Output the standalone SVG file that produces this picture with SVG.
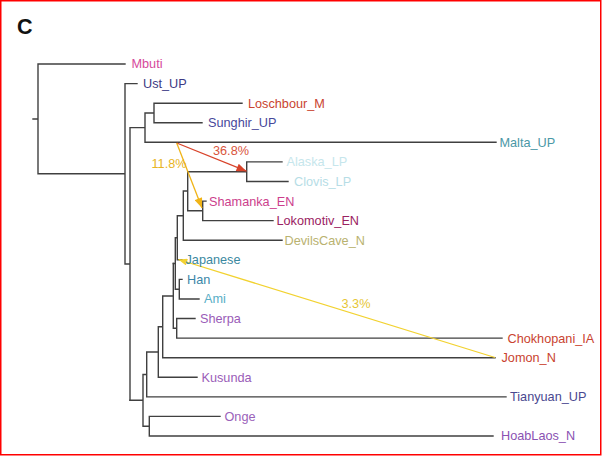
<svg xmlns="http://www.w3.org/2000/svg" width="602" height="456" viewBox="0 0 602 456">
<style>
.t{fill:none;stroke:#404040;stroke-width:1.4;stroke-linecap:square}
text{font-family:"Liberation Sans",Arial,sans-serif;font-size:12.7px}
.m{fill:none;stroke-width:1.3}
</style>
<defs>
<marker id="ar" viewBox="0 0 10 8" refX="10" refY="4" markerWidth="11" markerHeight="8" markerUnits="userSpaceOnUse" orient="auto"><path d="M0,0 L10,4 L0,8 Z" fill="#d8432a"/></marker>
<marker id="ao" viewBox="0 0 10 8" refX="10" refY="4" markerWidth="11" markerHeight="8" markerUnits="userSpaceOnUse" orient="auto"><path d="M0,0 L10,4 L0,8 Z" fill="#f0b418"/></marker>
<marker id="ay" viewBox="0 0 10 8" refX="10" refY="4" markerWidth="10" markerHeight="7" markerUnits="userSpaceOnUse" orient="auto"><path d="M0,0 L10,4 L0,8 Z" fill="#f2d230"/></marker>
</defs>
<rect x="0.75" y="0.75" width="600" height="454" fill="#fff" stroke="#ff0000" stroke-width="1.5"/>
<text x="17" y="33.5" style="font-size:21.5px;font-weight:bold" fill="#111">C</text>
<g id="connectors">
<path class="t" d="M33,119H38 M38,64V173.8 M38,64H125 M38,173.8H125 M125,83.6V264 M125,83.6H137 M125,264H130 M130,127.6V400.3 M130,127.6H145 M145,113V142.3 M145,113H154 M154,103.2V122.7 M154,103.2H242 M154,122.7H202 M145,142.3H496"/>
<path class="t" d="M130,400.3H143 M143,374.5V426.2 M143,374.5H146.7 M146.7,352V396.9 M146.7,396.9H506 M143,426.2H149.3 M149.3,416.4V436 M149.3,416.4H220 M149.3,436H493 M146.7,352H158.3 M158.3,326.8V377.3 M158.3,377.3H197 M158.3,326.8H162.7 M162.7,296V357.7 M162.7,357.7H495 M162.7,296H173.3 M173.3,263.5V328.3 M173.3,328.3H176.7 M176.7,318.5V338.1 M176.7,318.5H195 M176.7,338.1H502"/>
<path class="t" d="M173.3,263.5H175.3 M175.3,237.8V289.2 M175.3,289.2H179.3 M179.3,279.4V299 M179.3,279.4H182 M179.3,299H199 M175.3,237.8H177.3 M177.3,215.7V259.8 M177.3,259.8H182 M177.3,215.7H183.3 M183.3,191V240.2 M183.3,240.2H282 M183.3,191H187.7 M187.7,171.7V210.8 M187.7,171.7H246.7 M246.7,161.9V181.5 M246.7,161.9H282 M246.7,181.5H288 M187.7,210.8H202.7 M202.7,201.1V220.6 M202.7,201.1H206 M202.7,220.6H273"/>
<path class="m" stroke="#d8432a" d="M176.7,143 L246.5,171.2" marker-end="url(#ar)"/>
<path class="m" stroke="#f0b418" d="M176.7,143 L202,208" marker-end="url(#ao)"/>
<path class="m" stroke="#f2d230" d="M495,357.5 L178.5,259.5" marker-end="url(#ay)"/>
<text x="213" y="155" fill="#d9553c">36.8%</text>
<text x="151.5" y="167.5" fill="#e8b424">11.8%</text>
<text x="341.5" y="307.5" fill="#e6c635">3.3%</text>
</g>
<g id="n-mbuti"><text x="131.5" y="68.4" fill="#d6489b">Mbuti</text></g>
<g id="n-ust"><text x="143" y="88" fill="#3c3a84">Ust_UP</text></g>
<g id="n-losch"><text x="248" y="107.6" fill="#c9432f">Loschbour_M</text></g>
<g id="n-sunghir"><text x="208" y="127.1" fill="#47479a">Sunghir_UP</text></g>
<g id="n-malta"><text x="499.5" y="146.7" fill="#4a98a6">Malta_UP</text></g>
<g id="n-alaska"><text x="286.5" y="166.3" fill="#c6e6ec">Alaska_LP</text></g>
<g id="n-clovis"><text x="294" y="185.9" fill="#b6dde6">Clovis_LP</text></g>
<g id="n-shamanka"><text x="209" y="205.5" fill="#cc3e8c">Shamanka_EN</text></g>
<g id="n-lokomotiv"><text x="276.5" y="225" fill="#9a2262">Lokomotiv_EN</text></g>
<g id="n-devilscave"><text x="284.5" y="244.6" fill="#b9b270">DevilsCave_N</text></g>
<g id="n-japanese"><text x="185.5" y="264.2" fill="#3b88a0">Japanese</text></g>
<g id="n-han"><text x="187" y="283.8" fill="#3a86a8">Han</text></g>
<g id="n-ami"><text x="204" y="303.4" fill="#58aec6">Ami</text></g>
<g id="n-sherpa"><text x="200" y="322.9" fill="#9a5cb8">Sherpa</text></g>
<g id="n-chokhopani"><text x="507.5" y="342.5" fill="#c9432f">Chokhopani_IA</text></g>
<g id="n-jomon"><text x="501.5" y="362.1" fill="#c9432f">Jomon_N</text></g>
<g id="n-kusunda"><text x="201.5" y="381.7" fill="#9a5cb8">Kusunda</text></g>
<g id="n-tianyuan"><text x="510" y="401.3" fill="#4a4890">Tianyuan_UP</text></g>
<g id="n-onge"><text x="224.5" y="420.8" fill="#9a62ba">Onge</text></g>
<g id="n-hoablaos"><text x="501" y="440.4" fill="#8a52b2">HoabLaos_N</text></g>
</svg>
